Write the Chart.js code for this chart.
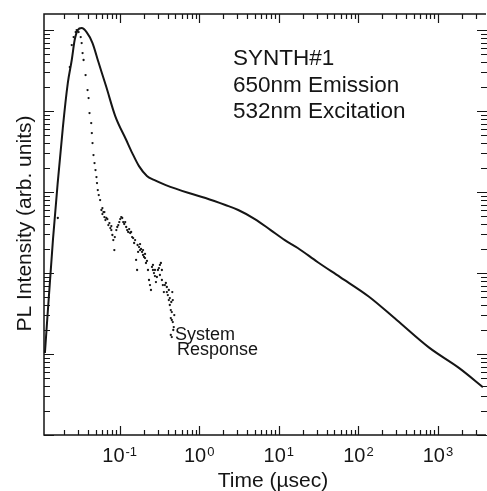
<!DOCTYPE html>
<html><head><meta charset="utf-8">
<script src="https://cdn.jsdelivr.net/npm/chart.js@4"></script>
<style>html,body{margin:0;padding:0;background:#fff;overflow:hidden}canvas{display:block}</style>
</head><body>
<canvas id="c" width="487" height="491"></canvas>
<script>
// PL decay (solid curve): time in µs, intensity arb. units
const plTime = [0.0115,0.0145,0.0193,0.0223,0.025,0.0272,0.0297,0.0333,0.0384,0.0456,0.0541,0.068,0.088,0.121,0.144,0.175,0.22,0.27,0.38,0.74,1.2,2.13,3.09,5.0,7.9,11.9,17.3,30.6,59,136,303,782,1850,3670];
const plIntensity = [10.3,255,6170,22200,42700,75300,100000,105900,94400,69200,40300,19800,8670,4390,3030,2090,1580,1410,1220,972,843,691,600,464,339,255,204,137,89,51,26.3,11.9,6.7,3.9];

// System response (dotted)
const sysTime = [0.0167,0.0236,0.0250,0.0264,0.0280,0.0288,0.0305,0.0324,
0.0333,0.0342,0.0352,0.0373,0.0395,0.0407,0.0418,0.0439,0.0447,0.0456,
0.0469,0.0483,0.0497,0.0511,0.0519,0.0531,0.0546,0.0568,0.0590,0.0607,
0.0625,0.0643,0.0662,0.0701,0.0743,0.0764,0.0786,0.0810,0.0832,0.0857,
0.0869,0.0908,0.0934,0.0989,0.1017,0.1047,0.1077,0.1109,0.1141,0.1208,
0.1243,0.1317,0.1355,0.1394,0.1435,0.1520,0.1564,0.1609,0.1656,0.1680,
0.1753,0.1805,0.1857,0.1911,0.1967,0.2023,0.2083,0.2142,0.2204,0.2270,
0.2337,0.2405,0.2475,0.2547,0.2621,0.2698,0.2775,0.2857,0.2939,0.3026,
0.3113,0.3205,0.3297,0.3393,0.3491,0.3593,0.3698,0.3805,0.3915,0.4030,
0.4146,0.4266,0.4390,0.4454,0.4518,0.4585,0.4651,0.4718,0.4784,0.4856,
0.4390,0.4518,
0.1805,0.1967,0.2083,0.2621,0.2775,0.3205,0.3393,0.3915,0.4146,0.4266,
0.4390,0.4518,0.4651,0.0607,0.0643,0.0680,0.0721,0.0786,0.0961,0.1174,
0.1280,0.1477,0.1705];
const sysIntensity = [478,34900,65300,82000,94400,100000,94400,82000,
69200,52000,42700,27800,18150,14460,9440,7110,5350,4028,
2864,2278,1870,1532,1291,1058,918,796,600,535,
566,491,451,464,414,359,339,295,255,192,
278,339,370,426,464,491,478,426,403,370,
339,349,312,321,278,235,255,145,109,222,
209,192,198,182,167,158,153,133,141,109,
82.0,71.1,61.7,119,109,100,91.8,77.4,89.3,109,
115,126,133,82.0,71.1,58.2,71.1,75.3,67.2,53.5,
46.4,40.3,34.9,43.9,26.3,58.2,46.4,19.8,21.5,30.3,
17.2,16.2,
228,192,172,126,109,94.5,109,58.2,61.7,49.1,
27.8,33.0,24.8,634,566,478,391,380,391,426,
321,270,182];

// Axis ranges and labels
const xRange = [0.0112, 3680];
const yRange = [1, 158000];
const xTickValues = [0.1, 1, 10, 100, 1000];
const xTickBase = '10';
const xTickExponents = ['-1', '0', '1', '2', '3'];
const xAxisTitle = 'Time (\u00b5sec)';
const yAxisTitle = 'PL Intensity (arb. units)';
const annotationLines = ['SYNTH#1', '650nm Emission', '532nm Excitation'];
const sysLabelLines = ['System', 'Response'];

const FONT = '"Liberation Sans", Arial, Helvetica, sans-serif';
const INK = '#151515';

const decor = {
  id: 'decor',
  afterDraw(chart) {
    const {ctx, chartArea: a, scales: {x, y}} = chart;
    ctx.save();
    ctx.strokeStyle = INK;
    ctx.fillStyle = INK;
    ctx.lineWidth = 1.5;
    ctx.beginPath();
    ctx.moveTo(a.right + 3, a.top);
    ctx.lineTo(a.left, a.top);
    ctx.lineTo(a.left, a.bottom);
    ctx.lineTo(a.right + 3, a.bottom);
    ctx.stroke();

    ctx.lineWidth = 1.2;
    ctx.beginPath();
    for (let e = -2; e <= 3; e++) {
      for (let m = 1; m <= 9; m++) {
        const v = m * Math.pow(10, e);
        if (v < x.min || v > x.max) continue;
        const px = Math.round(x.getPixelForValue(v)) + 0.5;
        const len = m === 1 ? 9 : 5;
        ctx.moveTo(px, a.bottom); ctx.lineTo(px, a.bottom - len);
        ctx.moveTo(px, a.top); ctx.lineTo(px, a.top + len);
      }
    }
    for (let e = 0; e <= 5; e++) {
      for (let m = 1; m <= 9; m++) {
        const v = m * Math.pow(10, e);
        if (v < y.min || v > y.max) continue;
        const py = Math.round(y.getPixelForValue(v)) + 0.5;
        const len = m === 1 ? 10 : 6;
        ctx.moveTo(a.left, py); ctx.lineTo(a.left + len, py);
        ctx.moveTo(a.right + 4, py); ctx.lineTo(a.right + 4 - len, py);
      }
    }
    ctx.stroke();

    ctx.textBaseline = 'alphabetic';
    ctx.textAlign = 'left';
    xTickValues.forEach((v, i) => {
      const px = x.getPixelForValue(v);
      ctx.font = '20px ' + FONT;
      const w1 = ctx.measureText(xTickBase).width;
      ctx.font = '13px ' + FONT;
      const w2 = ctx.measureText(xTickExponents[i]).width;
      const start = px - (w1 + w2 + 1) / 2;
      ctx.font = '20px ' + FONT;
      ctx.fillText(xTickBase, start, a.bottom + 27);
      ctx.font = '13px ' + FONT;
      ctx.fillText(xTickExponents[i], start + w1 + 1, a.bottom + 21);
    });

    ctx.font = '21px ' + FONT;
    ctx.textAlign = 'center';
    ctx.fillText(xAxisTitle, 273, 487);
    ctx.save();
    ctx.translate(31, 223.5);
    ctx.rotate(-Math.PI / 2);
    ctx.fillText(yAxisTitle, 0, 0);
    ctx.restore();

    ctx.textAlign = 'left';
    ctx.font = '22.5px ' + FONT;
    const base = [65, 92, 118];
    annotationLines.forEach((t, i) => ctx.fillText(t, 233, base[i]));
    ctx.font = '18px ' + FONT;
    ctx.fillText(sysLabelLines[0], 175, 340);
    ctx.fillText(sysLabelLines[1], 177, 355);
    ctx.restore();
  }
};

new Chart(document.getElementById('c'), {
  type: 'scatter',
  data: {
    datasets: [
      {
        label: 'PL',
        data: plTime.map((t, i) => ({x: t, y: plIntensity[i]})),
        showLine: true,
        borderColor: INK,
        borderWidth: 2,
        pointRadius: 0,
        cubicInterpolationMode: 'monotone',
        fill: false
      },
      {
        label: 'System Response',
        data: sysTime.map((t, i) => ({x: t, y: sysIntensity[i]})),
        showLine: false,
        pointRadius: 1.15,
        pointBorderWidth: 0,
        pointBackgroundColor: INK,
        pointBorderColor: INK
      }
    ]
  },
  options: {
    responsive: false,
    animation: false,
    events: [],
    layout: {padding: {left: 44, top: 14, right: 0, bottom: 56}},
    plugins: {legend: {display: false}, tooltip: {enabled: false}},
    scales: {
      x: {type: 'logarithmic', min: xRange[0], max: xRange[1], display: false},
      y: {type: 'logarithmic', min: yRange[0], max: yRange[1], display: false}
    }
  },
  plugins: [decor]
});
</script>
</body></html>
